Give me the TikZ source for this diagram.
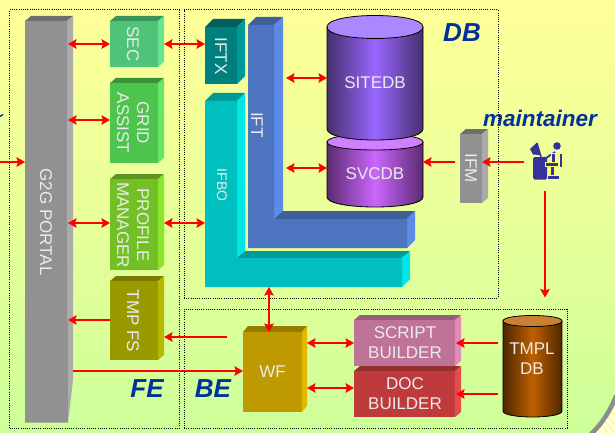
\documentclass[tikz,border=0pt]{standalone}
\usepackage{fontspec}
\setmainfont{Liberation Sans}
\usetikzlibrary{arrows.meta}
\definecolor{bgtop}{HTML}{FFFF99}
\definecolor{bgmid}{HTML}{E8FF99}
\definecolor{bgbot}{HTML}{CCFF99}
\definecolor{title}{HTML}{003399}
\definecolor{iconblue}{HTML}{333399}
\definecolor{iconline}{HTML}{FFFF66}
\definecolor{portalF}{HTML}{919191}\definecolor{portalT}{HTML}{6E6E6E}\definecolor{portalS}{HTML}{ABABAB}
\definecolor{secF}{HTML}{4DC477}\definecolor{secT}{HTML}{3A9358}\definecolor{secS}{HTML}{66E58F}
\definecolor{gridF}{HTML}{4DC44D}\definecolor{gridT}{HTML}{3A933A}\definecolor{gridS}{HTML}{66E566}
\definecolor{profF}{HTML}{73BF26}\definecolor{profT}{HTML}{5F951F}\definecolor{profS}{HTML}{8AE52E}
\definecolor{tmpF}{HTML}{999900}\definecolor{tmpT}{HTML}{7A7A00}\definecolor{tmpS}{HTML}{B8B800}
\definecolor{iftxF}{HTML}{007F7F}\definecolor{iftxT}{HTML}{005F5F}\definecolor{iftxS}{HTML}{009999}
\definecolor{ifboF}{HTML}{00BFBF}\definecolor{ifboT}{HTML}{009999}\definecolor{ifboS}{HTML}{00E5E5}
\definecolor{iftF}{HTML}{4D74BF}\definecolor{iftT}{HTML}{3F5F99}\definecolor{iftS}{HTML}{5C8AE5}
\definecolor{wfF}{HTML}{BF9900}\definecolor{wfT}{HTML}{997A00}\definecolor{wfS}{HTML}{E5B800}
\definecolor{scrF}{HTML}{BF7399}\definecolor{scrT}{HTML}{995C7A}\definecolor{scrS}{HTML}{E58AB8}
\definecolor{docF}{HTML}{BF3A3A}\definecolor{docT}{HTML}{993030}\definecolor{docS}{HTML}{E54D4D}
\definecolor{siteE}{HTML}{46306E}\definecolor{siteM}{HTML}{9966FF}\definecolor{siteT}{HTML}{AA88FF}
\definecolor{svcE}{HTML}{5A2A70}\definecolor{svcM}{HTML}{CC66FF}\definecolor{svcT}{HTML}{D080FF}
\definecolor{tmplE}{HTML}{4D2600}\definecolor{tmplM}{HTML}{BF6000}\definecolor{tmplT}{HTML}{CC8033}
\tikzset{
  conn/.style={draw=red,line width=2.5pt},
  both/.style={conn,{Stealth[length=8.5pt,width=9.5pt,inset=1.5pt]}-{Stealth[length=8.5pt,width=9.5pt,inset=1.5pt]}},
  onehead/.style={conn,-{Stealth[length=8.5pt,width=9.5pt,inset=1.5pt]}},
  lbl/.style={text=white!92!black,font=\fontsize{17}{20}\selectfont,align=center,inner sep=0pt},
  smalllbl/.style={lbl,font=\fontsize{14}{17}\selectfont},
  head/.style={text=title,font=\bfseries\itshape\fontsize{26}{30}\selectfont,inner sep=0pt},
  dotbox/.style={draw=black,line width=1pt,dash pattern=on 1pt off 1.2pt,inner sep=0pt},
  facenode/.style={inner sep=0pt,outer sep=0pt},
  iconpart/.style={fill=iconblue,draw=iconline,line width=0.4pt}
}
% name, x0,y0,x1,y1, dx,dy, colour prefix
\newcommand{\slab}[8]{%
  \pgfmathsetmacro{\slw}{#4-#2}\pgfmathsetmacro{\slh}{#5-#3}%
  \pgfmathsetmacro{\slcx}{(#2+#4)/2}\pgfmathsetmacro{\slcy}{(#3+#5)/2}%
  \pgfmathsetmacro{\slxa}{#2+#6}\pgfmathsetmacro{\slxb}{#4+#6}%
  \pgfmathsetmacro{\slya}{#3-#7}\pgfmathsetmacro{\slyb}{#5-#7}%
  \fill[#8T] (#2,#3) -- (\slxa,\slya) -- (\slxb,\slya) -- (#4,#3) -- cycle;
  \fill[#8S] (#4,#3) -- (\slxb,\slya) -- (\slxb,\slyb) -- (#4,#5) -- cycle;
  \node[facenode,fill=#8F,minimum width=\slw pt,minimum height=\slh pt] (#1) at (\slcx,\slcy) {};
}
% name, x0,x1, ytop,ybot, rytop,rybot, colour prefix
\newcommand{\drum}[8]{%
  \pgfmathsetmacro{\dra}{#4+4/3*#6}\pgfmathsetmacro{\drb}{#4-4/3*#6}%
  \pgfmathsetmacro{\drc}{#5+4/3*#7}%
  \pgfmathsetmacro{\drw}{#3-#2}\pgfmathsetmacro{\drh}{#5+#7-#4+#6}%
  \pgfmathsetmacro{\drx}{(#2+#3)/2}\pgfmathsetmacro{\dry}{(#4-#6+#5+#7)/2}%
  \path[draw=black,line width=0.8pt,left color=#8E,right color=#8E,middle color=#8M]
    (#2,#4) -- (#2,#5) .. controls (#2,\drc) and (#3,\drc) .. (#3,#5) -- (#3,#4) -- cycle;
  \path[draw=black,line width=0.8pt,fill=#8T]
    (#2,#4) .. controls (#2,\dra) and (#3,\dra) .. (#3,#4) .. controls (#3,\drb) and (#2,\drb) .. (#2,#4) -- cycle;
  \node[facenode,minimum width=\drw pt,minimum height=\drh pt] (#1) at (\drx,\dry) {};
}
\begin{document}
\begin{tikzpicture}[x=1pt,y=-1pt]
\useasboundingbox (0,0) rectangle (615,433);
% background
\shade[top color=bgtop,bottom color=bgbot,middle color=bgmid] (0,0) rectangle (615,433);
% outside corner
\begin{scope}
  \clip (615,398) .. controls (609,412) and (602,424) .. (592,433) -- (615,433) -- cycle;
  \fill[bgtop] (585,390) rectangle (615,433);
  \foreach \k in {0,7,...,49} {
    \draw[white,line width=2.5pt] (545+\k,380) -- (605+\k,450);
  }
\end{scope}
\draw[black!45,line width=4.5pt] (616,396) .. controls (610,411) and (602,424) .. (591,434);
% group frames
\node[dotbox,minimum width=170pt,minimum height=418pt] (fe) at (94.5,219) {};
\node[dotbox,minimum width=314pt,minimum height=288pt] (db) at (341,154) {};
\node[dotbox,minimum width=383pt,minimum height=119pt] (be) at (375.5,368.5) {};
% portal
\fill[portalT] (25,21) -- (31,16) -- (73,16) -- (67,21) -- cycle;
\fill[portalS] (67,21) -- (73,16) -- (73,380) -- (68,422.5) -- cycle;
\fill[portalF] (25,21) -- (67,21) -- (68,422.5) -- (25,422.5) -- cycle;
\node[facenode,minimum width=43pt,minimum height=401.5pt] (g2g) at (46.5,221.75) {};
\node[lbl,rotate=-90] (g2gT) at (46,222) {G2G PORTAL};
% front-end blocks
\slab{sec}{110}{21}{158}{67}{6}{5}{sec}
\slab{grid}{110}{83}{158}{163}{6}{5}{grid}
\slab{prof}{110}{179}{158}{270}{6}{5}{prof}
\slab{tmp}{110}{281}{158}{360}{6}{5}{tmp}
\node[lbl,rotate=-90] (secL) at (133,44) {SEC};
\node[lbl,rotate=-90] (gridL) at (133,123) {GRID\\ASSIST};
\node[lbl,rotate=-90] (profL) at (133,225) {PROFILE\\MANAGER};
\node[lbl,rotate=-90] (tmpL) at (133,321) {TMP FS};
% IFTX
\slab{iftx}{205}{27}{237}{84}{8}{8}{iftx}
\node[lbl,rotate=-90] (iftxL) at (221,56) {IFTX};
% IFT L-shape
\fill[iftT] (248,25) -- (256,17) -- (283,17) -- (274,25) -- cycle;
\fill[iftS] (274,25) -- (283,17) -- (283,211) -- (274,219) -- cycle;
\fill[iftT] (274,219) -- (283,211) -- (415,211) -- (407,219) -- cycle;
\fill[iftS] (407,219) -- (415,211) -- (415,240) -- (407,248) -- cycle;
\fill[iftF] (248,25) -- (274,25) -- (274,219) -- (407,219) -- (407,248) -- (248,248) -- cycle;
\node[facenode,minimum width=26pt,minimum height=223pt] (ift) at (261,136.5) {};
\node[lbl,rotate=-90] (iftL) at (257,125) {IFT};
% IFBO L-shape
\fill[ifboT] (205,101) -- (213,93) -- (245,93) -- (237,101) -- cycle;
\fill[ifboS] (237,101) -- (245,93) -- (245,251) -- (237,258) -- cycle;
\fill[ifboT] (237,258) -- (245,251) -- (410,251) -- (402,258) -- cycle;
\fill[ifboS] (402,258) -- (410,251) -- (410,279) -- (402,287) -- cycle;
\fill[ifboF] (205,101) -- (237,101) -- (237,258) -- (402,258) -- (402,287) -- (205,287) -- cycle;
\node[facenode,minimum width=197pt,minimum height=186pt] (ifbo) at (303.5,194) {};
\node[smalllbl,rotate=-90] (ifboL) at (222,185) {IFBO};
% databases
\drum{svcdb}{327}{423}{142}{197}{8}{10}{svc}
\drum{sitedb}{327}{423}{27}{129}{11.5}{11}{site}
\node[lbl] (siteL) at (375,83) {SITEDB};
\node[lbl] (svcL) at (375,174) {SVCDB};
% IFM
\slab{ifm}{460}{134}{482}{203}{6}{5}{portal}
\node[lbl,rotate=-90] (ifmL) at (471,168) {IFM};
% back-end blocks
\slab{wf}{243}{332}{302}{412}{5}{6}{wf}
\node[lbl] (wfL) at (272.5,372) {WF};
\slab{script}{354}{320}{455}{366}{6}{5}{scr}
\slab{doc}{354}{371}{455}{417}{6}{5}{doc}
\node[lbl] (scriptL) at (405,343) {SCRIPT\\BUILDER};
\node[lbl] (docL) at (405,394) {DOC\\BUILDER};
\drum{tmpl}{503}{562}{321}{411}{5.5}{6}{tmpl}
\node[lbl] (tmplL) at (532,358.5) {TMPL\\DB};
% maintainer icon
\node[facenode,minimum width=30pt,minimum height=38pt] (maint) at (547,160) {};
\fill[iconblue] (530,149) -- (537,142.5) -- (540,155) -- (533,154.5) -- cycle;
\draw[iconblue,line width=1.5pt] (537,143) -- (541,157);
\fill[iconblue,rounded corners=1.5pt] (533,157) rectangle (547,179.5);
\draw[iconblue,line width=1.8pt] (555,152) -- (546,158);
\fill[iconpart] (551,153) rectangle (555,163);
\fill[iconpart] (559,153) rectangle (562.5,167);
\fill[iconpart] (545,162) rectangle (558,166.5);
\fill[iconpart] (550.5,166.5) rectangle (554,175);
\fill[iconpart] (547.5,175) rectangle (559.5,179.5);
\fill[iconblue] (557,146) circle[radius=3.8];
% helper levels for the connectors
\coordinate (h44) at (0,44);
\coordinate (h120) at (0,120);
\coordinate (h224) at (0,223);
\coordinate (h320) at (0,320);
\coordinate (h337) at (0,337);
\coordinate (h371) at (0,371);
\coordinate (h78) at (0,78);
\coordinate (h168) at (0,168);
\coordinate (h343) at (0,343);
\coordinate (h388) at (0,388);
\coordinate (h394) at (0,394);
\coordinate (v269) at (269,0);
\coordinate (inL) at (0,162);
\coordinate (tmplArrowR) at (498,0);
\coordinate (maintTop) at (545,191);
\coordinate (maintL) at (524,162);
\coordinate (tmplTop) at (545,297.5);
\coordinate (ifmLeft) at (455,162);
\coordinate (wfLeft) at (227,337);
% connectors
\draw[onehead] (inL) -- (g2g.west |- inL);
\draw[both] (g2g.east |- h44) -- (sec.west |- h44);
\draw[both] (g2g.east |- h120) -- (grid.west |- h120);
\draw[both] (g2g.east |- h224) -- (prof.west |- h224);
\draw[onehead] (tmp.west |- h320) -- (g2g.east |- h320);
\draw[both] ([xshift=6pt]sec.east |- h44) -- (iftx.west |- h44);
\draw[both] ([xshift=6pt]prof.east |- h224) -- (ifbo.west |- h224);
\draw[both] ([xshift=12pt]ift.east |- h78) -- (sitedb.west |- h78);
\draw[both] ([xshift=12pt]ift.east |- h168) -- (svcdb.west |- h168);
\draw[onehead] (ifmLeft) -- (svcdb.east |- ifmLeft);
\draw[onehead] (maintL) -- (ifm.east |- maintL);
\draw[onehead] (maintTop) -- (tmplTop);
\draw[both] (v269 |- ifbo.south) -- (v269 |- wf.north);
\draw[onehead] (wfLeft) -- ([xshift=6pt]tmp.east |- wfLeft);
\draw[onehead] ([xshift=5pt]g2g.east |- h371) -- (wf.west |- h371);
\draw[both] ([xshift=5pt]wf.east |- h343) -- (script.west |- h343);
\draw[both] ([xshift=5pt]wf.east |- h388) -- (doc.west |- h388);
\draw[onehead] (tmplArrowR |- h343) -- ([xshift=1pt]script.east |- h343);
\draw[onehead] (tmplArrowR |- h394) -- ([xshift=1pt]doc.east |- h394);
% headings
\node[head] (dbL) at (462,33) {DB};
\node[head] (feL) at (147,389) {FE};
\node[head] (beL) at (213,389) {BE};
\node[head,font=\bfseries\itshape\fontsize{22.5}{26}\selectfont] (maintL2) at (540,118) {maintainer};
% clipped heading fragment at the left edge
\draw[title,line width=1.5pt] (0,116.5) -- (3,114.5);
\end{tikzpicture}
\end{document}
